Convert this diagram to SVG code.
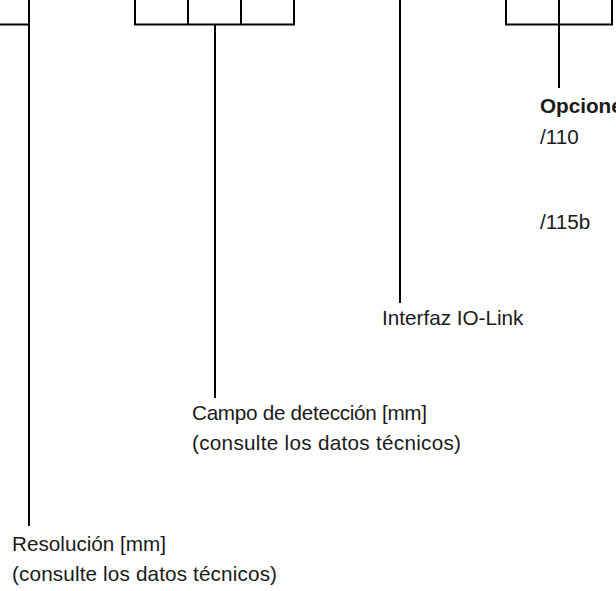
<svg xmlns="http://www.w3.org/2000/svg" width="616" height="591" viewBox="0 0 616 591">
<style>
.ln{stroke:#000;stroke-width:2;fill:none}
.t{font-family:"Liberation Sans",Arial,Helvetica,sans-serif;font-size:20.7px;fill:#1a1a1a}
.b{font-weight:bold}
</style>
<rect width="616" height="591" fill="#fff"/>
<g id="boxes">
<g id="box-left"><path class="ln" d="M0,24.5 H29 V0"/></g>
<g id="box-mid"><path class="ln" d="M135,0 V24.5 H294 V0 M188,0 V24.5 M241,0 V24.5"/></g>
<g id="box-right"><path class="ln" d="M506,0 V24.5 H612 V0 M559,0 V24.5"/></g>
</g>
<g id="connectors">
<line class="ln" x1="29" y1="0" x2="29" y2="526"/>
<line class="ln" x1="215" y1="24.5" x2="215" y2="398"/>
<line class="ln" x1="400" y1="0" x2="400" y2="303"/>
<line class="ln" x1="559" y1="24.5" x2="559" y2="88"/>
</g>
<g id="label-opciones">
<text class="t b" x="540" y="112.5">Opciones</text>
<text class="t" x="540" y="144">/110</text>
<text class="t" x="540" y="228.5">/115b</text>
</g>
<g id="label-interfaz">
<text class="t" x="382" y="325">Interfaz IO-Link</text>
</g>
<g id="label-campo">
<text class="t" x="192" y="420" textLength="235" lengthAdjust="spacing">Campo de detección [mm]</text>
<text class="t" x="192" y="450" textLength="269" lengthAdjust="spacing">(consulte los datos técnicos)</text>
</g>
<g id="label-resolucion">
<text class="t" x="12" y="551">Resolución [mm]</text>
<text class="t" x="12" y="581" textLength="265" lengthAdjust="spacing">(consulte los datos técnicos)</text>
</g>
</svg>
